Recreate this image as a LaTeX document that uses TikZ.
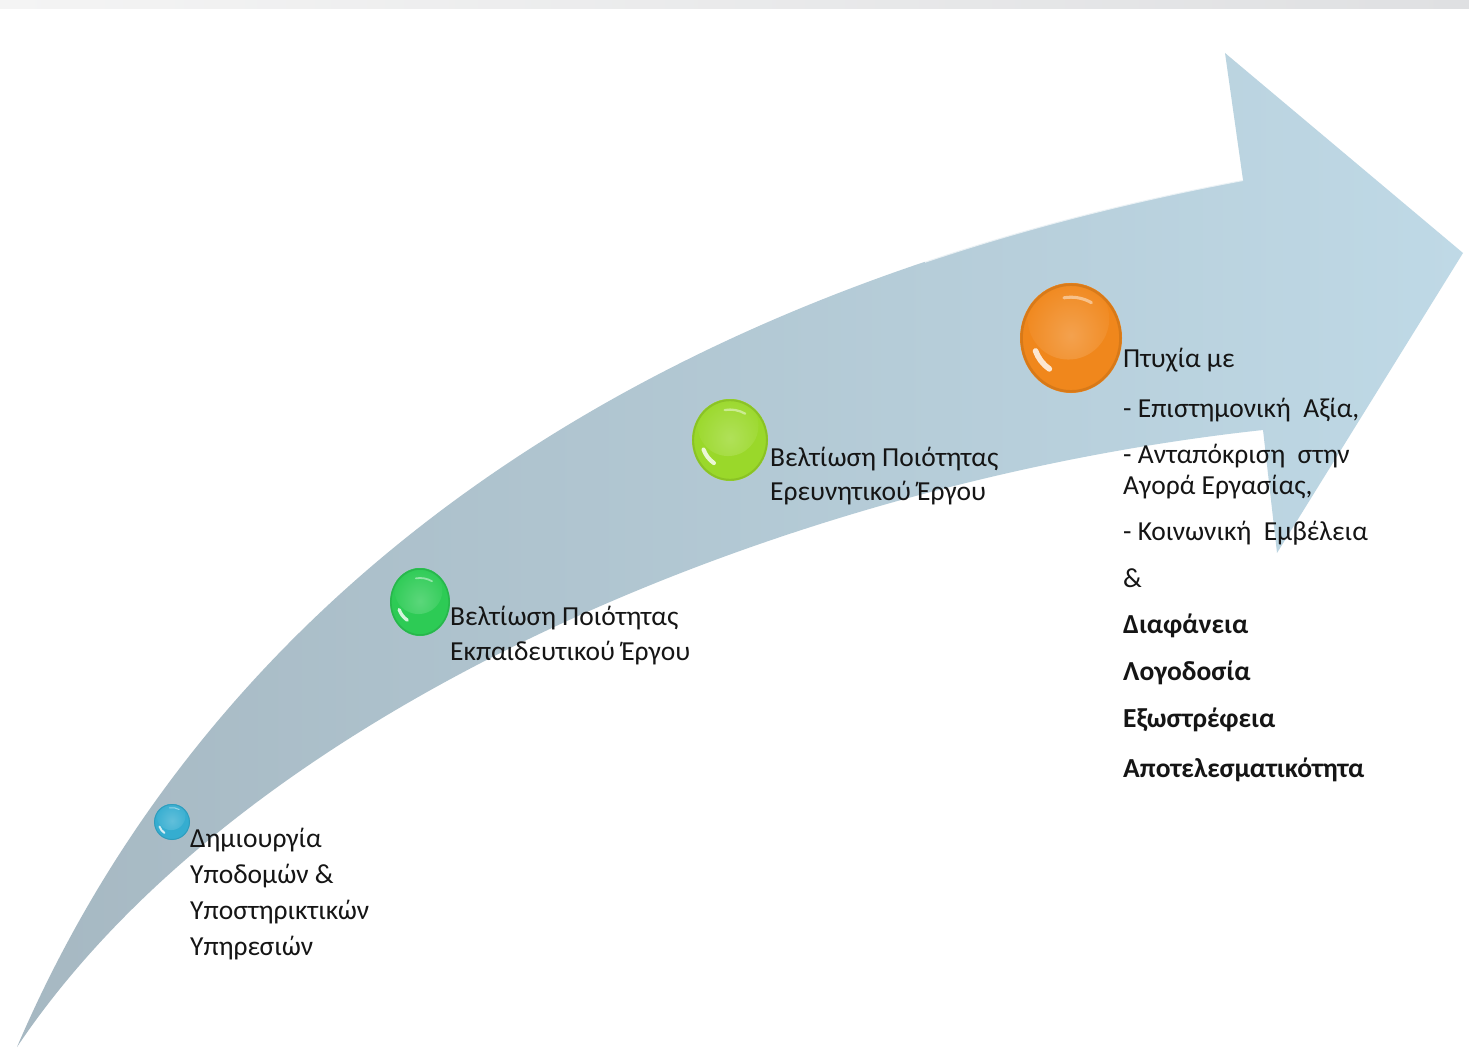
\documentclass[tikz,border=0pt]{standalone}
\usepackage{fontspec}
\setmainfont{Carlito}
\usetikzlibrary{shapes.geometric}
\definecolor{shaftA}{HTML}{A6B8C2}
\definecolor{shaftB}{HTML}{BFD9E6}
\definecolor{txt}{HTML}{151515}
\definecolor{cblue}{HTML}{35ADD0}
\definecolor{cgreen}{HTML}{2DCB55}
\definecolor{clime}{HTML}{9AD82A}
\definecolor{corange}{HTML}{F0871C}
\definecolor{bandA}{HTML}{F4F4F4}
\definecolor{bandB}{HTML}{EFECE5}
\definecolor{bandC}{HTML}{DFE0E2}
\begin{document}
\begin{tikzpicture}[x=1pt,y=-1pt,
  ballnode/.style n args={3}{ellipse, inner sep=0pt, minimum width=2*#2, minimum height=2*#3, fill=#1,
    path picture={
      \shade[inner color=#1!78!white, outer color=#1] ([shift={(-0.05*#2,-0.35*#3)}]path picture bounding box.center) circle[radius=0.8*#2];
      \draw[white, opacity=0.8, line width=0.11*#2, line cap=round] ([shift={(125:0.74*#2)}]path picture bounding box.center) arc[start angle=125, end angle=160, radius=0.74*#2];
      \draw[white, opacity=0.45, line width=0.06*#2, line cap=round] ([shift={(-60:0.8*#2)}]path picture bounding box.center) arc[start angle=-60, end angle=-100, radius=0.8*#2];
      \draw[#1!80!black, opacity=0.5, line width=0.05*#2] (path picture bounding box.center) ellipse[x radius=0.97*#2, y radius=0.97*#3];
    }},
  lbl/.style={anchor=base west, inner sep=0pt, text=txt, font=\fontsize{27.5}{32}\selectfont},
  lblb/.style={lbl, font=\fontsize{27.5}{32}\selectfont\bfseries}
]
\useasboundingbox (0,0) rectangle (1469,1059);
\fill[white] (0,0) rectangle (1469,1059);
% top band
\shade[left color=bandA, middle color=bandB, right color=bandC] (0,0) rectangle (1469,9);
% arrow
\shade[left color=shaftA, right color=shaftB]
  (17,1047) .. controls (200,620) and (600,300) .. (1243,180)
  -- (1225,53) -- (1463,253) -- (1277,553) -- (1263,430)
  .. controls (800,480) and (250,700) .. (17,1047) -- cycle;
\begin{scope}
  \clip (925,0) rectangle (1250,400);
  \draw[white, opacity=0.7, line width=2pt] (17,1047) .. controls (200,620) and (600,300) .. (1243,180);
\end{scope}
% balls
\node[ballnode={cblue}{18}{18}] (b1) at (172,822) {};
\node[ballnode={cgreen}{30}{34}] (b2) at (420,602) {};
\node[ballnode={clime}{38}{41}] (b3) at (730,440) {};
\node[ballnode={corange}{51}{55}] (b4) at (1071,338) {};
% labels
\node[lbl] (t1a) at (190,847) {Δημιουργία};
\node[lbl] (t1b) at (190,883) {Υποδομών \&};
\node[lbl] (t1c) at (190,919) {Υποστηρικτικών};
\node[lbl] (t1d) at (190,955) {Υπηρεσιών};
\node[lbl] (t2a) at (450,625) {Βελτίωση Ποιότητας};
\node[lbl] (t2b) at (450,660) {Εκπαιδευτικού Έργου};
\node[lbl] (t3a) at (770,466) {Βελτίωση Ποιότητας};
\node[lbl] (t3b) at (770,500) {Ερευνητικού Έργου};
\node[lbl] (t4a) at (1123,367) {Πτυχία με};
\node[lbl] (t4b) at (1123,417) {- Επιστημονική\ \ Αξία,};
\node[lbl] (t4c) at (1123,463) {- Ανταπόκριση\ \ στην};
\node[lbl] (t4d) at (1123,494) {Αγορά Εργασίας,};
\node[lbl] (t4e) at (1123,540) {- Κοινωνική\ \ Εμβέλεια};
\node[lbl] (t4f) at (1123,587) {\&};
\node[lblb] (t4g) at (1123,633) {Διαφάνεια};
\node[lblb] (t4h) at (1123,680) {Λογοδοσία};
\node[lblb] (t4i) at (1123,727) {Εξωστρέφεια};
\node[lblb] (t4j) at (1123,777) {Αποτελεσματικότητα};
\end{tikzpicture}
\end{document}
